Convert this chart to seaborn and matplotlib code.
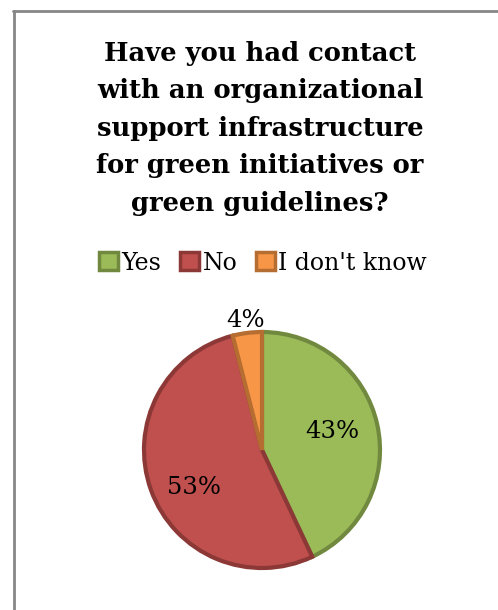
import matplotlib
matplotlib.use("Agg")
import matplotlib.pyplot as plt
import seaborn as sns
import numpy as np
from matplotlib.patches import Patch
from matplotlib.lines import Line2D

# Survey answers
categories = ["Yes", "No", "I don't know"]
shares = [43, 53, 4]
fill_colors = ["#9BBB59", "#C0504D", "#F79646"]
edge_colors = ["#71893F", "#8C3836", "#B66D31"]
label_radius = [0.62, 0.66, 1.11]
label_turn = [2, 9, 0]   # degrees added to each label's mid-angle

title = ("Have you had contact\nwith an organizational\nsupport infrastructure\n"
         "for green initiatives or\ngreen guidelines?")

sns.set_theme(style="white")
plt.rcParams["font.family"] = ["DejaVu Serif"]
plt.rcParams["text.color"] = "black"

W, H = 498, 610
fig = plt.figure(figsize=(W / 100, H / 100), dpi=100)
fig.patch.set_facecolor("white")

# Pie axes: centre (262, 450) px, radius 118 px
cx, cy, r = 262, 450, 118
ax = fig.add_axes([(cx - r) / W, (H - cy - r) / H, 2 * r / W, 2 * r / H])
wedges, _ = ax.pie(shares, colors=fill_colors, startangle=90, counterclock=False,
                   wedgeprops=dict(linewidth=3, joinstyle="miter"))
for w, ec in zip(wedges, edge_colors):
    w.set_edgecolor(ec)
    w.set_clip_on(False)
ax.set_xlim(-1, 1)
ax.set_ylim(-1, 1)
ax.set_aspect("equal")
ax.axis("off")

for w, v, rr, t in zip(wedges, shares, label_radius, label_turn):
    mid = np.deg2rad((w.theta1 + w.theta2) / 2 + t)
    ax.text(rr * np.cos(mid), rr * np.sin(mid), f"{v}%", ha="center", va="center",
            fontsize=17.5, color="black")

# Title
fig.text(260 / W, 1 - 41 / H, title, ha="center", va="top", fontsize=18.6,
         fontweight="bold", linespacing=1.62, color="black")

# Legend
handles = [Patch(facecolor=f, edgecolor=e, linewidth=2.5) for f, e in zip(fill_colors, edge_colors)]
leg = fig.legend(handles, categories, loc="center", bbox_to_anchor=(263 / W, 1 - 263 / H),
                 ncol=3, frameon=False, fontsize=17, handlelength=0.8, handleheight=0.8,
                 handletextpad=0.15, columnspacing=0.8, borderpad=0)
for t in leg.get_texts():
    t.set_color("black")

# Outer frame
fig.add_artist(Line2D([14 / W, 14 / W], [0, 1 - 11 / H], transform=fig.transFigure,
                      color="#868686", linewidth=2))
fig.add_artist(Line2D([13 / W, 1], [1 - 11 / H, 1 - 11 / H], transform=fig.transFigure,
                      color="#868686", linewidth=2))

fig.savefig("out.png", dpi=100)
